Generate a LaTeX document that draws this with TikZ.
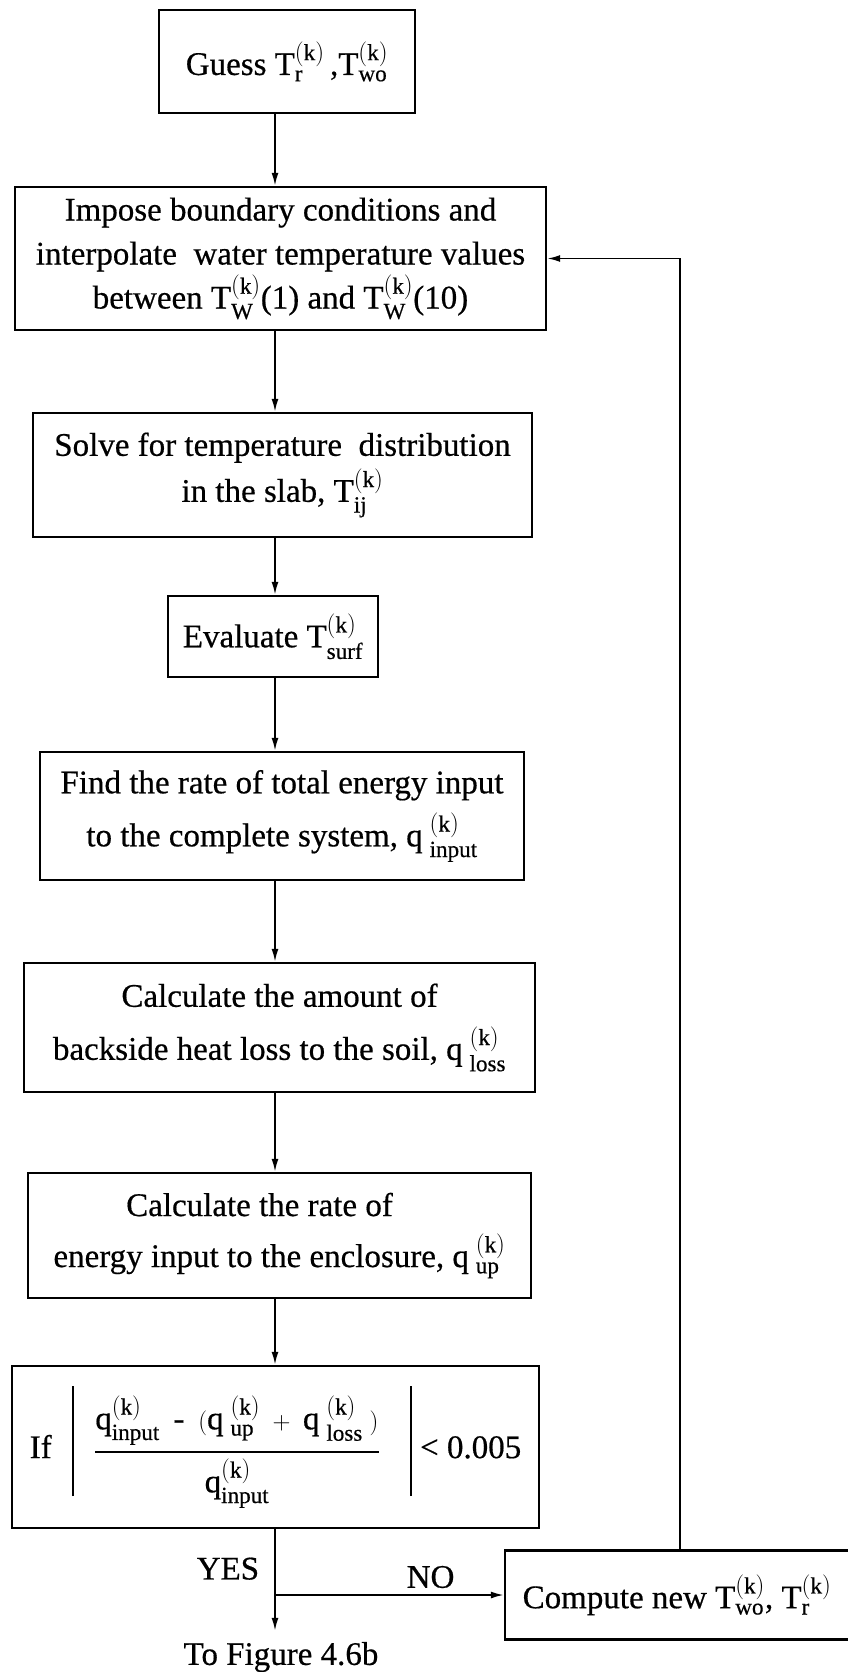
\documentclass[tikz,border=0pt]{standalone}
\usepackage{amsmath}
\usepackage{fontspec}
\setmainfont{Liberation Serif}[FakeBold=0.5]
\usepackage{tikz}
\usetikzlibrary{arrows.meta,positioning}

\newcommand{\bodyfont}{\fontsize{33}{44}\selectfont}
\newcommand{\msym}[3]{\mathrm{#1}^{\mathrm{(#3)}}_{\mathrm{#2}}}
\newcommand{\varsym}[3]{$\msym{#1}{#2}{#3}$}
\newcommand{\absbar}{\vrule width 2.4pt height 72pt depth 38pt}

\begin{document}
\begin{tikzpicture}[x=1pt, y=-1pt,
  procbox/.style={draw, line width=2.4pt, align=center, inner sep=0pt, font=\bodyfont},
  flow/.style={-{Latex[length=13pt,width=7pt]}, line width=1.8pt},
  lbl/.style={inner sep=0pt, font=\bodyfont},
]
  \useasboundingbox (0,0) rectangle (847,1672);
  \coordinate (col) at (275,0);

  \node[procbox, minimum width=256pt, minimum height=103pt] (guess) at (287,61.5)
    {Guess \varsym{T}{r}{k}\,,\varsym{T}{wo}{k}};
  \node[procbox, minimum width=531pt, minimum height=143pt] (impose) at (280.5,258.5)
    {Impose boundary conditions and\\
     interpolate\ \ water temperature values\\
     between \varsym{T}{W}{k}(1) and \varsym{T}{W}{k}(10)};
  \node[procbox, minimum width=499pt, minimum height=124pt] (solve) at (282.5,475)
    {Solve for temperature\ \ distribution\\[2pt]
     in the slab, \varsym{T}{ij}{k}};
  \node[procbox, minimum width=210pt, minimum height=81pt] (eval) at (273,636.5)
    {Evaluate \varsym{T}{surf}{k}};
  \node[procbox, minimum width=484pt, minimum height=128pt] (find) at (282,816)
    {Find the rate of total energy input\\[9pt]
     to the complete system, \varsym{q\;}{input}{k}};
  \node[procbox, minimum width=511pt, minimum height=129pt] (loss) at (279.5,1027.5)
    {Calculate the amount of\\[9pt]
     backside heat loss to the soil, \varsym{q\;}{loss}{k}};
  \node[procbox, minimum width=503pt, minimum height=125pt] (up) at (279.5,1235.5)
    {Calculate the rate of\hspace*{40pt}\\[7pt]
     energy input to the enclosure, \varsym{q\;}{up}{k}};
  \node[procbox, minimum width=527pt, minimum height=162pt] (check) at (275.5,1447)
    {If\hspace{20pt}\absbar\hspace{20pt}$\displaystyle\genfrac{}{}{2pt}{0}
      {\msym{q}{input}{k}\mbox{ \,-\, }(\msym{q\;}{up}{k} \;+\; \msym{q\;}{loss}{k}\;)}
      {\msym{q}{input}{k}}$\hspace{30pt}\absbar\hspace{8pt}< 0.005};
  \node[procbox, minimum width=350pt, minimum height=89pt] (compute) at (680,1595)
    {Compute new \varsym{T}{wo}{k}, \varsym{T}{r}{k}\hspace*{6pt}};

  % Main flow
  \draw[flow] (guess.south -| col) -- (impose.north -| col);
  \draw[flow] (impose.south -| col) -- (solve.north -| col);
  \draw[flow] (solve.south -| col) -- (eval.north -| col);
  \draw[flow] (eval.south -| col) -- (find.north -| col);
  \draw[flow] (find.south -| col) -- (loss.north -| col);
  \draw[flow] (loss.south -| col) -- (up.north -| col);
  \draw[flow] (up.south -| col) -- (check.north -| col);

  % Decision
  \coordinate (split) at (275,1595);
  \node[lbl] (tofig) at (281,1657) {To Figure 4.6b};
  \draw[line width=1.8pt] (check.south -| col) -- node[lbl, left=15pt, pos=0.6] {YES} (split);
  \draw[flow] (split) -- node[lbl, above=6pt, pos=0.68] {NO} (compute.west);
  \draw[flow, shorten >=11pt] (split) -- (tofig.north -| col);

  % Feedback
  \draw[flow] (compute.north) |- (impose.east);
\end{tikzpicture}
\end{document}
